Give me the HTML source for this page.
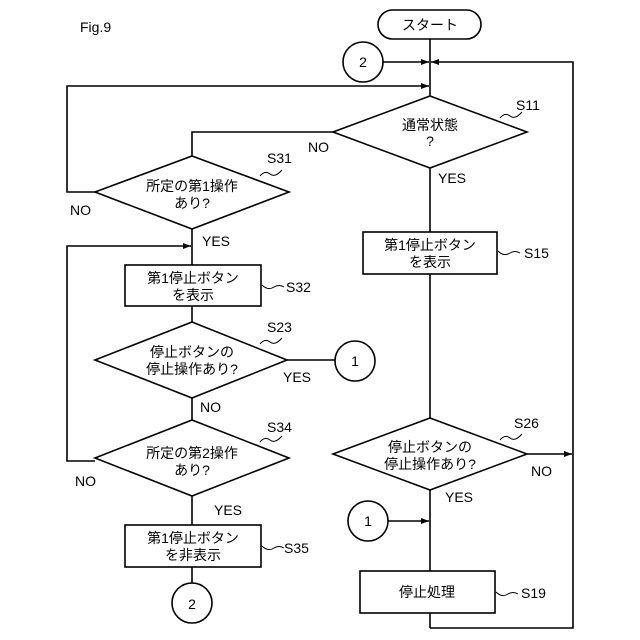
<!DOCTYPE html>
<html><head><meta charset="utf-8"><style>
body{margin:0;background:#fff}
svg{display:block}
text{font-family:"Liberation Sans","Noto Sans CJK JP",sans-serif;fill:#000}
</style></head><body>
<svg width="640" height="640" viewBox="0 0 640 640" xmlns="http://www.w3.org/2000/svg">
<defs><marker id="a" markerWidth="8" markerHeight="8" refX="8" refY="4" orient="auto" markerUnits="userSpaceOnUse"><path d="M0,1 L8,4 L0,7 Z" fill="#000"/></marker></defs>
<g stroke="#000" stroke-width="1.6" fill="none">
<text x="80" y="32" font-size="14" stroke="none">Fig.9</text>
<rect x="378" y="10" width="103" height="29" rx="14.5" fill="#fff"/>
<line x1="430" y1="39" x2="430" y2="96"/>
<circle cx="363" cy="62" r="20"/>
<line x1="383" y1="62" x2="429" y2="62" marker-end="url(#a)"/>
<polyline points="430,628 573,628 573,62 431,62" marker-end="url(#a)"/>
<polyline points="95,192 67,192 67,86 429,86" marker-end="url(#a)"/>
<polygon points="430,96 527,132 430,168 333,132" fill="#fff"/>
<polyline points="333,132 192,132 192,156"/>
<line x1="430" y1="168" x2="430" y2="232"/>
<rect x="363" y="232" width="134" height="42"/>
<line x1="430" y1="274" x2="430" y2="418"/>
<polygon points="430,418 527,454 430,490 333,454" fill="#fff"/>
<line x1="527" y1="454" x2="572" y2="454" marker-end="url(#a)"/>
<line x1="430" y1="490" x2="430" y2="571"/>
<circle cx="368" cy="521" r="20"/>
<line x1="388" y1="521" x2="429" y2="521" marker-end="url(#a)"/>
<rect x="360" y="571" width="135" height="42"/>
<line x1="430" y1="613" x2="430" y2="628"/>
<polygon points="192,156 289,192 192,229 95,192" fill="#fff"/>
<line x1="192" y1="229" x2="192" y2="265"/>
<polyline points="95,461 67,461 67,246 191,246" marker-end="url(#a)"/>
<rect x="125" y="265" width="136" height="41"/>
<line x1="192" y1="306" x2="192" y2="322"/>
<polygon points="192,322 287,360 192,398 95,360" fill="#fff"/>
<line x1="287" y1="360" x2="335" y2="360"/>
<circle cx="355" cy="361" r="20"/>
<line x1="192" y1="398" x2="192" y2="420"/>
<polygon points="192,420 289,458 192,496 95,458" fill="#fff"/>
<line x1="192" y1="496" x2="192" y2="525"/>
<rect x="125" y="525" width="136" height="42"/>
<line x1="192" y1="567" x2="192" y2="583"/>
<circle cx="192" cy="603" r="20"/>
<g stroke-width="1">
<path d="M500,118 q5,-6 10,-2 q5,4 12,-4"/>
<path d="M260,176 q5,-6 10,-2 q5,4 12,-4"/>
<path d="M260,344 q5,-6 10,-2 q5,4 12,-4"/>
<path d="M260,442 q5,-6 10,-2 q5,4 12,-4"/>
<path d="M500,440 q5,-6 10,-2 q5,4 12,-4"/>
<path d="M262,285 q6,6 12,2 q5,-3 10,0"/>
<path d="M262,546 q6,6 12,2 q5,-3 10,0"/>
<path d="M498,251 q6,6 12,2 q5,-3 10,0"/>
<path d="M496,592 q6,6 12,2 q5,-3 10,0"/>
</g>
</g>
<g font-size="14" text-anchor="middle">
<text x="430" y="30">スタート</text>
<text x="363" y="67">2</text>
<text x="430" y="130">通常状態</text>
<text x="430" y="146">?</text>
<text x="192" y="191">所定の第1操作</text>
<text x="192" y="208">あり?</text>
<text x="193" y="283">第1停止ボタン</text>
<text x="193" y="300">を表示</text>
<text x="192" y="357">停止ボタンの</text>
<text x="192" y="374">停止操作あり?</text>
<text x="355" y="366">1</text>
<text x="192" y="458">所定の第2操作</text>
<text x="192" y="475">あり?</text>
<text x="193" y="543">第1停止ボタン</text>
<text x="193" y="560">を非表示</text>
<text x="192" y="609">2</text>
<text x="430" y="250">第1停止ボタン</text>
<text x="430" y="267">を表示</text>
<text x="430" y="452">停止ボタンの</text>
<text x="430" y="469">停止操作あり?</text>
<text x="368" y="526">1</text>
<text x="427" y="597">停止処理</text>
</g>
<g font-size="14">
<text x="516" y="110">S11</text>
<text x="308" y="152">NO</text>
<text x="438" y="183">YES</text>
<text x="267" y="163">S31</text>
<text x="70" y="215">NO</text>
<text x="202" y="246">YES</text>
<text x="286" y="292">S32</text>
<text x="267" y="332">S23</text>
<text x="283" y="382">YES</text>
<text x="200" y="412">NO</text>
<text x="267" y="432">S34</text>
<text x="75" y="486">NO</text>
<text x="214" y="515">YES</text>
<text x="284" y="553">S35</text>
<text x="524" y="258">S15</text>
<text x="514" y="428">S26</text>
<text x="531" y="476">NO</text>
<text x="445" y="502">YES</text>
<text x="521" y="598">S19</text>
</g>
</svg>
</body></html>
